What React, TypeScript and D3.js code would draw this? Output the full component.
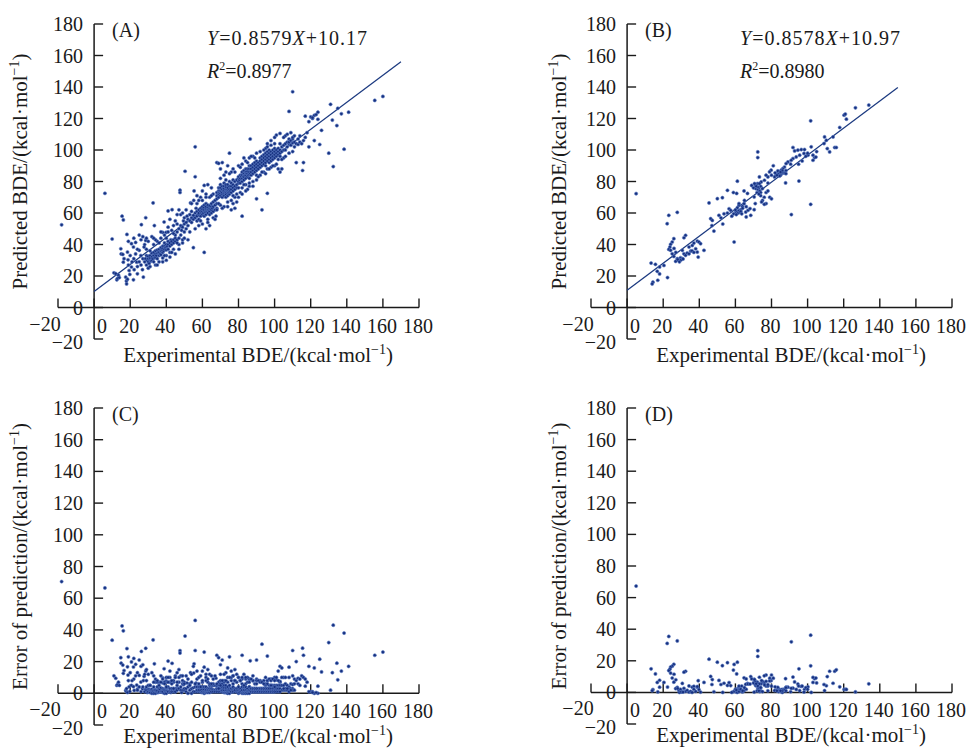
import React from "react";
import * as d3 from "d3";

// ---------- data ----------
const axisTicks = [-20, 0, 20, 40, 60, 80, 100, 120, 140, 160, 180];
const panelLabels = ["(A)", "(B)", "(C)", "(D)"];
const fitSlopes = [0.8579, 0.8578];
const fitIntercepts = [10.17, 10.97];
const fitEnds = [170, 150];
const slopeTexts = ["0.8579", "0.8578"];
const interceptTexts = ["10.17", "10.97"];
const r2Texts = ["0.8977", "0.8980"];

// Panel A: [experimental BDE, predicted BDE]
const pointsA: [number, number][] = [
  [-18, 52.5], [6, 72.5], [10, 43.5], [11, 22], [12, 21.5], [12.6, 17.6], [13, 18.5], [13.5, 20.5], [14, 19],
  [14.8, 37.3], [15, 34], [15.5, 58], [16.2, 55.6], [15.9, 33.7], [16.2, 28.8], [16.6, 31], [17.5, 19.3],
  [17.9, 16.8], [18, 15], [18.2, 46.4], [18.5, 18], [18.5, 35.2], [18.8, 30.3], [19, 27], [19.4, 23.5],
  [19.8, 21], [20.7, 25.7], [20.7, 40.5], [21.8, 17.6], [21.8, 38.4], [22.2, 24], [23, 41.3], [23.6, 28.8],
  [24, 21.4], [25, 36.3], [25.9, 33], [26.2, 52.6], [26.8, 24], [27.3, 19.3], [27.7, 38.4], [22, 31], [23, 34],
  [24, 26], [21, 29], [20, 33], [25, 29], [26, 27], [27, 31], [24, 37], [26, 43], [22, 44], [19, 42],
  [28.6, 42.6], [28.6, 57], [32.7, 66.4], [33.4, 52], [38.8, 54.3], [41, 61.3], [43.2, 62.1], [39.9, 47.7],
  [28, 29], [28.5, 31], [29, 27], [29, 33], [29.5, 30], [30, 29], [30, 31], [30, 32.5], [30.5, 28], [31, 30],
  [31, 31.5], [31, 33], [31.5, 29.5], [32, 30], [32, 32], [32, 34.5], [32.5, 31], [33, 29], [33, 33], [33, 35],
  [33.5, 31.5], [34, 32], [34, 34], [34, 36], [34.5, 33], [35, 31], [35, 34.5], [35, 36.5], [35.5, 35], [36, 33],
  [36, 35], [36, 37], [36.5, 34], [37, 36], [37, 38], [37, 33.5], [37.5, 36.5], [38, 35], [38, 37.5], [38, 39],
  [38.5, 36], [39, 37], [39, 39], [39, 41], [39.5, 38], [40, 36.5], [40, 38.5], [40, 40], [40.5, 39], [41, 37],
  [41, 40], [41, 42], [42, 39], [42, 41], [42.5, 43], [43, 40], [43, 42], [44, 41], [44, 43], [45, 42], [45, 44],
  [46, 43], [29, 37], [31, 36], [30, 25], [34, 27], [36, 29], [38, 31.5], [40, 33], [42, 35], [44, 37], [33, 40],
  [35, 42], [37, 44], [39, 46], [41, 48], [36, 41], [28, 40], [30, 42], [32, 45], [34, 43], [38, 47.7], [40, 44],
  [38, 29], [40, 30], [42, 32], [45, 34], [47, 40], [49, 41],
  [45, 46], [46, 48], [46, 41], [47, 44], [47, 50], [47.6, 74.5], [47.6, 73], [48, 46], [48, 52], [48.5, 49],
  [49, 51], [49, 43], [49.5, 55], [50, 48], [50, 53], [50, 57], [50.4, 86.5], [51, 50], [51, 54], [51.5, 58],
  [52, 52], [52, 56], [52, 43], [53, 55], [53, 59], [53.4, 66.4], [54, 54], [54, 57], [54, 61], [55, 56],
  [55, 58.5], [55.2, 68], [55.4, 74], [55, 38], [56, 102], [56, 83], [56, 57], [56, 60], [56.5, 63], [57, 58],
  [57, 55], [57, 61], [58, 59], [58, 62], [58, 56], [44, 52], [45, 55], [46, 59], [42, 56], [43, 49], [47, 62],
  [48, 59], [61, 35],
  [58, 60], [59, 58], [59, 61], [59, 63], [59.5, 60], [60, 59], [60, 61], [60, 62.5], [60, 64], [60.5, 60],
  [61, 58], [61, 61], [61, 62], [61, 63.5], [61, 65], [61.5, 60.5], [62, 59], [62, 61], [62, 62.5], [62, 64],
  [62, 66], [62.5, 61.5], [63, 60], [63, 62], [63, 63.5], [63, 65], [63.5, 62], [64, 61], [64, 63], [64, 64.5],
  [64, 59], [64.5, 62.5], [65, 60], [65, 62], [65, 64], [65, 66], [65.5, 63], [66, 61], [66, 64], [66, 67],
  [67, 62], [67, 65], [67, 68], [67.5, 58], [68, 63], [68, 66], [68, 69], [59, 55], [60, 53], [63, 56], [66, 57],
  [62, 50], [64, 52], [57, 66], [58, 68], [59, 70], [60, 74], [61, 77.5], [62, 72], [64, 70], [66, 72], [65, 76],
  [63, 78],
  [68, 71], [68, 73], [69, 70], [69, 72], [69, 74], [69, 76], [69.5, 73], [70, 71], [70, 72.5], [70, 74], [70, 76],
  [70, 78], [70.5, 73.5], [71, 70], [71, 72], [71, 73], [71, 75], [71, 77], [71.5, 74], [72, 71], [72, 72.5],
  [72, 74], [72, 75.5], [72, 77], [72, 79], [72.5, 73], [73, 70], [73, 72], [73, 73.5], [73, 75], [73, 76.5],
  [73, 78], [73.5, 74], [74, 71], [74, 72.5], [74, 74], [74, 75], [74, 76], [74, 78], [74.5, 73], [75, 72],
  [75, 73.5], [75, 75], [75, 77], [75, 80], [75.5, 74], [76, 73], [76, 75], [76, 77], [76, 79], [77, 74], [77, 76],
  [77, 78], [77, 81], [78, 75], [78, 77], [78, 80], [79, 78], [79, 81], [79, 76], [80, 79], [80, 82], [68, 62],
  [70, 65], [72, 64], [74, 67], [76, 68], [78, 70], [73, 86], [75, 98], [70, 88], [71, 92], [68, 92], [69, 91.5],
  [72, 84], [74, 90], [77, 66], [80, 70], [79, 72], [78, 63], [76, 86], [77, 88],
  [80, 80], [80, 83], [80.5, 81], [81, 79], [81, 82], [81, 84], [81.5, 83], [82, 80], [82, 82], [82, 84], [82, 86],
  [82.5, 83], [83, 81], [83, 83], [83, 85], [83, 87], [83.5, 84], [84, 82], [84, 84], [84, 86], [84, 88],
  [84.5, 85], [85, 83], [85, 85], [85, 86.5], [85, 88], [85.5, 84], [86, 82], [86, 84.5], [86, 86], [86, 88],
  [86, 90], [86.5, 85], [87, 84], [87, 86], [87, 88], [87, 90], [88, 85], [88, 87], [88, 89], [88, 91], [89, 86],
  [89, 88], [89, 90], [89, 92], [90, 87], [90, 89], [90, 91], [90, 93], [91, 88], [91, 90], [91, 92], [92, 89],
  [92, 91], [92, 93], [82, 58], [82, 76], [84, 78], [86, 77], [88, 80], [90, 81], [92, 84], [90, 69], [93, 62],
  [96, 72.5], [84, 93], [86, 95], [86.5, 107], [88, 96], [90, 98], [80, 90], [82, 91], [83, 95], [81, 73], [85, 75],
  [92, 95], [93, 90], [93, 92], [93, 94], [93, 96], [94, 91], [94, 93], [94, 95], [94, 97], [95, 90], [95, 92],
  [95, 94], [95, 96], [95, 98], [96, 93], [96, 95], [96, 97], [96, 99], [97, 92], [97, 94], [97, 96], [97, 98],
  [97, 100], [98, 93], [98, 95], [98, 97], [98, 99], [99, 94], [99, 96], [99, 98], [99, 100], [100, 95], [100, 97],
  [100, 99], [100, 101], [101, 96], [101, 98], [101, 100], [102, 97], [102, 99], [102, 101], [103, 96], [103, 98],
  [103, 100], [104, 99], [104, 102], [105, 100], [94, 86], [96, 88], [98, 89], [100, 90], [102, 88], [103, 86],
  [104, 88], [105, 95], [96, 104], [95, 101], [98, 103], [100, 104], [101, 109.5], [103, 110.5],
  [105, 103], [106, 100], [106, 104], [106, 109], [107, 102], [107, 105], [108, 104], [108, 105], [108, 107],
  [108, 124.5], [109, 103], [109, 106], [110, 99], [110, 104.5], [110, 107], [110, 108], [110, 137], [111, 102],
  [111, 105], [111, 109], [112, 92], [112, 104], [113, 103.5], [113, 107], [114, 105], [114, 109], [115, 104],
  [115.5, 87], [116, 92], [116, 106], [117, 108], [117, 121.5], [118, 111], [119, 102], [120, 121], [121, 120],
  [122, 106], [122, 122], [124, 119.5], [124, 124], [125, 103.5], [126, 112.5], [131, 129], [132, 119], [130, 98],
  [132.5, 89.5], [134.5, 115.5], [135, 126.5], [137, 123], [138.5, 100.5], [141, 124], [155.5, 131.5], [160, 134],
  [121, 120.5], [123, 122.5], [119, 118],
  [62, 70], [63, 54], [65, 71], [67, 56], [69, 66], [70, 82], [71, 63], [73, 81], [74, 64], [75, 85], [76, 62],
  [77, 71], [78, 86], [79, 67], [80, 76], [81, 89], [82, 72], [83, 78], [84, 74], [85, 92], [86, 79], [87, 96],
  [88, 77], [89, 95], [90, 84], [91, 83], [92, 99], [93, 86], [94, 100], [95, 85], [96, 102], [97, 88], [98, 106],
  [99, 90], [100, 108], [101, 91], [102, 94], [103, 104], [104, 94], [105, 108], [106, 96], [107, 110], [108, 98],
  [109, 111], [60, 68], [58, 52], [57, 71], [56, 50], [54, 66], [53, 48], [51, 62], [50, 44], [49, 60], [47, 37],
  [46, 53], [44, 47], [43, 35], [41, 51], [39, 33], [37, 48], [35, 27], [33, 44], [31, 26], [29, 44], [27, 45],
  [25, 46],
];

// Panel B: [experimental BDE, predicted BDE]
const pointsB: [number, number][] = [
  [5, 72.3], [13.3, 28.2], [15.7, 27.4], [18, 25.7], [20.4, 26.7], [16.7, 23], [18, 21.3], [14.3, 16.1], [13.9, 15],
  [17, 17.3], [22.4, 19], [22.2, 53.2], [23.1, 58.5], [27.8, 60.4],
  [25.9, 43.7], [25, 41.6], [24.1, 40.1], [23.7, 38.4], [23.1, 36.9], [24.1, 36.3], [25, 34.1], [25.9, 32.4],
  [27.8, 31], [28.7, 29.9], [26.9, 29.3], [29.6, 31.6], [30.6, 31], [31.5, 34.1], [30.6, 36.3], [32.4, 33.1],
  [33.3, 34.6], [34.3, 34.1], [35.2, 35.8], [34.3, 38.4], [32.4, 45.8], [31.5, 44.3], [36.1, 39.4], [37, 40.9],
  [38.9, 42.2], [39.8, 41.6], [40.7, 40.5], [42.6, 36.3], [38.9, 35.2], [39.4, 32], [38, 37.3], [28, 30.5],
  [29, 29], [30, 30.3], [31, 30.8], [27, 35], [26, 37.5], [36, 36], [37, 35],
  [45.4, 66.4], [46.3, 56.4], [47.2, 55.3], [48.1, 48.5], [47, 52], [50, 69.1], [52.8, 69.7], [50.9, 58.5],
  [53.7, 59.5], [52, 57], [53, 53], [55.6, 60], [56.5, 62.7], [57.4, 61.7], [55.6, 74.4], [58.9, 73], [60.7, 72.4],
  [61.1, 80.2], [64.8, 74], [66.7, 72.4], [59.3, 41.6], [61.1, 63.4], [63, 62.1], [60.2, 60.6], [62, 64.9],
  [63.9, 64.2], [64.8, 65.9], [65.7, 60.6], [67, 61.7], [68.1, 62.8], [70.4, 62.1], [71.3, 75.5], [72.2, 78.7],
  [70.4, 70.2], [68.5, 58.5], [61, 61], [61.5, 60], [62, 61.5], [62.5, 60.5], [63, 61], [60, 62], [59, 59.5],
  [58, 58], [64, 63], [66, 64], [62, 66], [60.5, 59], [63.5, 59.5], [66, 57.5], [65, 68],
  [72.4, 98.8], [72.4, 95.2], [72, 73], [72.5, 75], [73, 76], [73.5, 74], [74, 73], [74, 77], [75, 75.5], [76, 70],
  [75, 68], [74, 71], [73, 72], [77, 73], [78, 74], [77, 66], [76, 65.5], [79, 70], [80, 69], [74.5, 67], [71, 66],
  [70, 76], [71, 78], [69, 77.5], [78, 79], [80, 84], [81, 90], [86.4, 85.5],
  [95.2, 80.3], [87.8, 79.1], [91, 59], [101.7, 65.5], [101.7, 118.5], [133.9, 128.5], [126.5, 126.8],
  [120.2, 122.1], [120.9, 122.8], [121.5, 119.6], [117.8, 114.3], [109.4, 108.3], [110.4, 106.2], [109.1, 104.1],
  [110.9, 100.9], [112.2, 98.8], [115, 101.6], [115.9, 101.6], [114.1, 108.3],
  [91.9, 101.6], [92.8, 99.4], [94.6, 99.9], [96.5, 100.3], [98.3, 100.3], [98, 97.8], [100.2, 96.7], [102, 102],
  [103, 96.7], [103.9, 95.2], [95.6, 96.7], [93.7, 95.6], [91.9, 94.6], [90.9, 93.5], [89.1, 92.4], [90.6, 91],
  [88.1, 91.4], [87.2, 89.2], [86.3, 88.2], [85.4, 87.2], [84.4, 86.1], [83.5, 85], [82.6, 84], [81.7, 82.9],
  [85.4, 85], [87.2, 85.4], [83.5, 86.7], [79.8, 87.2], [78.9, 86.1], [78, 82.9], [76.1, 80.8], [74.3, 79.7],
  [73.3, 78.7], [72.4, 76.5], [71.5, 77], [70.6, 78.7], [73.3, 82.9], [77, 84], [84, 84.5], [85, 84], [86, 86],
  [84.5, 83.5], [83, 84], [82, 85.5], [86, 87], [85, 86], [88, 87], [95, 91], [97, 93], [99, 96], [103, 93.5],
  [104.6, 95.5], [100, 98], [105, 99], [88, 85],
];

// Panels C and D plot the absolute prediction error |predicted − experimental| of A and B
const errorsC: [number, number][] = pointsA.map(([e, p]) => [e, Math.abs(p - e)]);
const errorsD: [number, number][] = pointsB.map(([e, p]) => [e, Math.abs(p - e)]);

// ---------- drawing ----------
const FONT = "'Liberation Serif', 'Times New Roman', Times, serif";
const INK = "#1a1a1a";
const DOT_FILL = "#16307f";
const DOT_STROKE = "#5a7bc2";
const LINE_COLOR = "#1c3a80";

function UnitTitle(props: { before: string; x: number; y: number; rotate?: boolean }) {
  const { before, x, y, rotate } = props;
  return (
    <text
      x={x}
      y={y}
      fontFamily={FONT}
      fontSize={21}
      fill={INK}
      textAnchor="middle"
      transform={rotate ? `rotate(-90 ${x} ${y})` : undefined}
    >
      {before}/(kcal·mol
      <tspan fontSize={14} dy={-8}>−1</tspan>
      <tspan dy={8}>)</tspan>
    </text>
  );
}

type PanelProps = {
  xr: [number, number];
  yr: [number, number];
  pts: [number, number][];
  label: string;
  yTitle: string;
  yTitleX: number;
  xTitleOffset: number;
  fitIndex?: number;
};

function Panel({ xr, yr, pts, label, yTitle, yTitleX, xTitleOffset, fitIndex }: PanelProps) {
  const x = d3.scaleLinear().domain([-20, 180]).range(xr);
  const y = d3.scaleLinear().domain([-20, 180]).range(yr);
  const x0 = x(0);
  const y0 = y(0);
  const tick = 9;
  const hasFit = fitIndex !== undefined;
  const line = d3
    .line<number>()
    .x((d) => x(d))
    .y((d) => y(fitSlopes[fitIndex ?? 0] * d + fitIntercepts[fitIndex ?? 0]));
  const yCenter = (y(180) + y(-20)) / 2 - 10;

  return (
    <g>
      {/* axes */}
      <line x1={x(-20)} x2={x(180)} y1={y0} y2={y0} stroke={INK} strokeWidth={1.5} />
      <line x1={x0} x2={x0} y1={y(-20)} y2={y(180)} stroke={INK} strokeWidth={1.5} />
      {axisTicks.map((t) => (
        <line key={"xt" + t} x1={x(t)} x2={x(t)} y1={y0} y2={y0 - tick} stroke={INK} strokeWidth={1.4} />
      ))}
      {axisTicks.map((t) => (
        <line key={"yt" + t} x1={x0} x2={x0 + tick} y1={y(t)} y2={y(t)} stroke={INK} strokeWidth={1.4} />
      ))}
      {axisTicks.map((t) => (
        <text
          key={"xl" + t}
          x={x(t) + (t === -20 ? -13 : t === 0 ? 8 : -1)}
          y={y0 + (t === -20 ? 23 : 25)}
          fontFamily={FONT}
          fontSize={20}
          fill={INK}
          textAnchor="middle"
        >
          {t < 0 ? "−" + Math.abs(t) : String(t)}
        </text>
      ))}
      {axisTicks.map((t) => (
        <text
          key={"yl" + t}
          x={x0 - 11}
          y={y(t) + (t === -20 ? 3 : 0)}
          dy="0.35em"
          fontFamily={FONT}
          fontSize={20}
          fill={INK}
          textAnchor="end"
        >
          {t < 0 ? "−" + Math.abs(t) : String(t)}
        </text>
      ))}

      {/* titles */}
      <UnitTitle before="Experimental BDE" x={x0 + 164} y={y0 + xTitleOffset} />
      <UnitTitle before={yTitle} x={yTitleX} y={yCenter} rotate />
      <text x={x0 + 18} y={y(180) + 13} fontFamily={FONT} fontSize={20} fill={INK}>
        {label}
      </text>

      {hasFit && (
        <g>
          <path d={line([0, fitEnds[fitIndex!]]) || ""} stroke={LINE_COLOR} strokeWidth={1.3} fill="none" />
          <text x={x0 + 113} y={y(180) + 21} fontFamily={FONT} fontSize={20} fill={INK} textLength={160} lengthAdjust="spacing">
            <tspan fontStyle="italic">Y</tspan>={slopeTexts[fitIndex!]}
            <tspan fontStyle="italic">X</tspan>+{interceptTexts[fitIndex!]}
          </text>
          <text x={x0 + 113} y={y(180) + 54} fontFamily={FONT} fontSize={20} fill={INK}>
            <tspan fontStyle="italic">R</tspan>
            <tspan fontSize={12} dy={-8}>2</tspan>
            <tspan dy={8}>={r2Texts[fitIndex!]}</tspan>
          </text>
        </g>
      )}

      {/* points */}
      {pts.map(([e, p], i) => (
        <circle key={i} cx={x(e)} cy={y(p)} r={1.6} fill={DOT_FILL} stroke={DOT_STROKE} strokeWidth={0.6} />
      ))}
    </g>
  );
}

export default function App() {
  return (
    <svg
      width={967}
      height={750}
      viewBox="0 0 967 750"
      style={{ position: "absolute", left: 0, top: 0, background: "#fff" }}
    >
      <rect width={967} height={750} fill="#fff" />
      <Panel xr={[58, 419]} yr={[339, 24]} pts={pointsA} label={panelLabels[0]} yTitle="Predicted BDE" yTitleX={27} xTitleOffset={54} fitIndex={0} />
      <Panel xr={[591, 952]} yr={[339, 24]} pts={pointsB} label={panelLabels[1]} yTitle="Predicted BDE" yTitleX={566} xTitleOffset={54} fitIndex={1} />
      <Panel xr={[58, 419]} yr={[725, 408]} pts={errorsC} label={panelLabels[2]} yTitle="Error of prediction" yTitleX={27} xTitleOffset={50} />
      <Panel xr={[591, 952]} yr={[724, 408]} pts={errorsD} label={panelLabels[3]} yTitle="Error of prediction" yTitleX={566} xTitleOffset={50} />
    </svg>
  );
}
